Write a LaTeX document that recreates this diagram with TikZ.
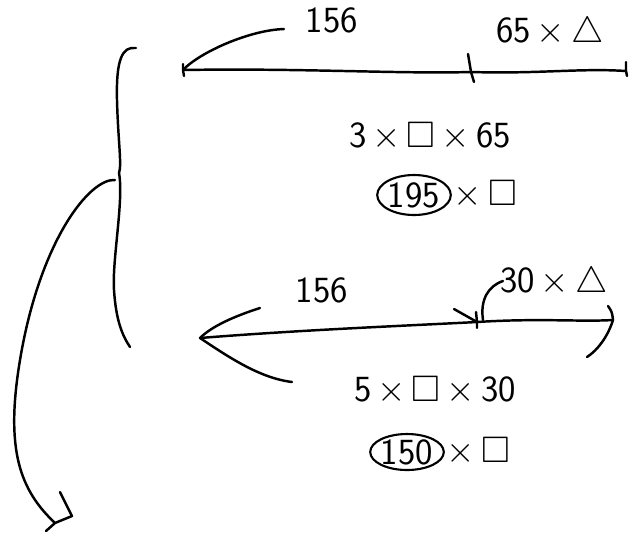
\documentclass[tikz,border=0pt]{standalone}
\usepackage{amssymb}
\usetikzlibrary{shapes.geometric}
\begin{document}
\begin{tikzpicture}
  [x=0.02cm,y=-0.02cm,line cap=round,line join=round,
   ink/.style={draw=black,line width=1.4pt},
   ring/.style={draw,ellipse,line width=1.2pt,inner sep=0pt},
   every node/.style={font=\fontsize{21}{24}\selectfont\sffamily,inner sep=1pt}]
\useasboundingbox (0,0) rectangle (632,539);
% Fila superior: 156 + 65 x triangulo
  \coordinate (a1) at (183,70);
  \coordinate (a2) at (471,72);
  \coordinate (a3) at (626,71);
  \draw[ink] (a1) .. controls (300,68) and (400,74) .. (a2) .. controls (540,74) and (580,68) .. (a3);
  \draw[ink] (183,64) -- (a1) -- (184,76);
  \draw[ink] (468,54) -- (a2) -- (474,82);
  \draw[ink] (626,62) -- (a3) -- (627,76);
  \node (t156) at (332,20) {156};
  \node (t65) at (550,33) {65$\,{\times}\,\triangle$};
  \coordinate (c1) at (284,29);
  \draw[ink] (a1) .. controls (200,52) and (250,30) .. (c1);

  % Primera cuenta
  \node (m1) at (430,137) {3$\,{\times}\,\square\,{\times}\,$65};
  \node[ring,minimum width=1.36cm,minimum height=0.8cm] (e1) at (414,195) {195};
  \node[anchor=west] (r1) at (e1.east) {${\times}\,\square$};

  % Llave izquierda
  \coordinate (b1) at (136,48);
  \coordinate (b2) at (119,173);
  \coordinate (b3) at (130,347);
  \draw[ink] (b1) .. controls (122,46) and (116,60) .. (117,100) .. controls (118,140) and (122,165) .. (b2);
  \draw[ink] (b2) .. controls (124,200) and (112,260) .. (114,290) .. controls (116,320) and (122,335) .. (b3);

  % Arco grande
  \coordinate (g1) at (115,180);
  \coordinate (g2) at (55,523);
  \draw[ink] (g1) .. controls (90,178) and (40,240) .. (20,360) .. controls (5,450) and (20,490) .. (g2);
  \draw[ink] (60,492) -- (72,516) -- (g2) -- (46,531);

  % Fila inferior: 156 + 30 x triangulo
  \coordinate (d1) at (200,338);
  \coordinate (d2) at (477,322);
  \coordinate (d3) at (613,320);
  \draw[ink] (d1) .. controls (300,330) and (400,326) .. (d2) .. controls (540,318) and (580,322) .. (d3);
  \draw[ink] (260,308) .. controls (235,316) and (212,326) .. (d1) .. controls (230,358) and (260,378) .. (292,382);
  \draw[ink] (454,309) -- (d2);
  \draw[ink] (476,312) -- (d2) -- (477,328);
  \draw[ink] (608,306) .. controls (612,312) .. (d3) .. controls (608,336) and (598,350) .. (587,357);
  \node (b156) at (322,290) {156};
  \node (b30) at (554,283) {30$\,{\times}\,\triangle$};
  \coordinate (c2) at (503,281);
  \draw[ink] (483,320) .. controls (480,300) and (488,286) .. (c2);

  % Segunda cuenta
  \node (m2) at (435,391) {5$\,{\times}\,\square\,{\times}\,$30};
  \node[ring,minimum width=1.1cm,minimum height=0.72cm] (e2) at (407,452) {150};
  \node[anchor=west] (r2) at (e2.east) {${\times}\,\square$};
\end{tikzpicture}
\end{document}
